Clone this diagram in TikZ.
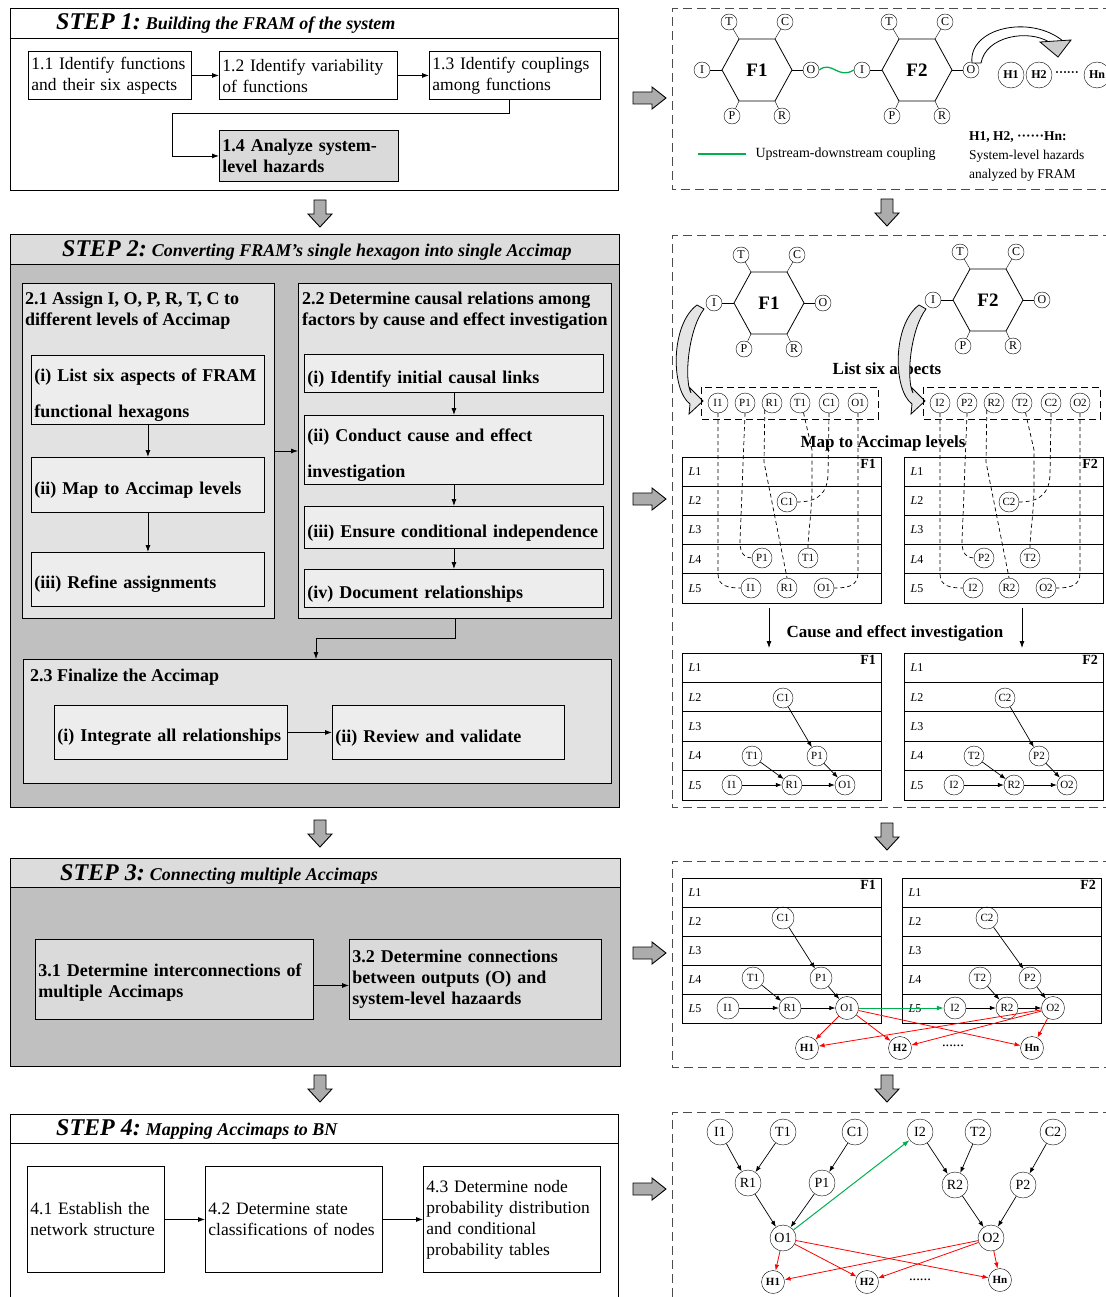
\documentclass[tikz,border=0pt]{standalone}
\usepackage{fontspec}
\setmainfont{Liberation Serif}
\usetikzlibrary{arrows.meta, positioning, calc}

\definecolor{stepgray}{HTML}{C0C0C0}
\definecolor{headgray}{HTML}{DCDCDC}
\definecolor{boxgray}{HTML}{E2E2E2}
\definecolor{subgray}{HTML}{EDEDED}
\definecolor{hazgray}{HTML}{DADADA}
\definecolor{coupgreen}{HTML}{00B050}
\definecolor{hazred}{HTML}{FF0000}

\hyphenpenalty=10000
\exhyphenpenalty=10000

\newcommand{\fsreg}{\fontsize{17.5}{21}\selectfont}
\newcommand{\fsbold}{\fontsize{18}{21}\selectfont\bfseries}
\newcommand{\fsstep}{\fontsize{24}{26}\selectfont\bfseries\itshape}
\newcommand{\fssub}{\fontsize{18}{20}\selectfont\bfseries\itshape}
\newcommand{\fsnote}{\fontsize{13.5}{19}\selectfont}
\newcommand{\fsasp}{\fontsize{12}{13}\selectfont}
\newcommand{\fsnode}{\fontsize{11}{12}\selectfont}
\newcommand{\fsbn}{\fontsize{14}{15}\selectfont}
\newcommand{\fsfun}{\fontsize{19}{20}\selectfont\bfseries}

% FRAM hexagon with its six aspects: name, x, y, label
\newcommand{\framhex}[4]{%
  \begin{scope}[shift={(#2,#3)}]
    \draw[line width=0.8pt] (-35,0) -- (-18,-31) -- (18,-31) -- (35,0) -- (18,31) -- (-18,31) -- cycle;
    \node[font=\fsfun] (#1) at (0,0) {#4};
    \node[asp] (#1T) at (-28,-48) {T};
    \node[asp] (#1C) at (28,-48) {C};
    \node[asp] (#1I) at (-55,0) {I};
    \node[asp] (#1O) at (54,0) {O};
    \node[asp] (#1P) at (-25,46) {P};
    \node[asp] (#1R) at (25,46) {R};
    \draw (-18,-31) -- (#1T);
    \draw (18,-31) -- (#1C);
    \draw (-35,0) -- (#1I);
    \draw (35,0) -- (#1O);
    \draw (-18,31) -- (#1P);
    \draw (18,31) -- (#1R);
  \end{scope}}

% Accimap with five levels: x, y, width, row height, label, prefix
\newcommand{\levtable}[6]{%
  \foreach \lv in {1,...,5}{%
    \draw[line width=0.9pt] (#1,{#2+(\lv-1)*#4}) rectangle ++(#3,#4);
    \node[levlab] (#6L\lv) at ({#1+13},{#2+(\lv-0.5)*#4}) {\textit{L}\lv};
  }
  \node[funlab] (#6F) at ({#1+#3-4},{#2+1}) {#5};}

\begin{document}
\begin{tikzpicture}[x=1pt, y=-1pt, >={Latex[length=7pt,width=5pt]},
  frame/.style={draw, line width=1pt},
  steptitle/.style={anchor=west, inner sep=0pt},
  pbox/.style={draw, line width=0.9pt, anchor=north west, align=left, inner sep=3pt, font=\fsreg},
  bbox/.style={pbox, font=\fsbold},
  subbox/.style={bbox, fill=subgray, execute at begin node={\rule{0pt}{23pt}}},
  grp/.style={draw, line width=1pt, fill=boxgray, anchor=north west, inner sep=0pt},
  grptitle/.style={anchor=north west, align=left, inner sep=0pt, font=\fsbold},
  asp/.style={circle, draw, inner sep=0pt, minimum size=16pt, font=\fsasp},
  fac/.style={circle, draw, inner sep=0pt, minimum size=20pt, font=\fsnode},
  hzA/.style={circle, draw, inner sep=0pt, minimum size=26pt, font=\fontsize{12}{13}\selectfont\bfseries},
  haz/.style={circle, draw, inner sep=0pt, minimum size=23pt, font=\fsnode\bfseries},
  bn/.style={circle, draw, inner sep=0pt, minimum size=26pt, font=\fsbn},
  levlab/.style={inner sep=0pt, font=\fontsize{12}{13}\selectfont},
  funlab/.style={anchor=north east, inner sep=1pt, font=\fontsize{14}{15}\selectfont\bfseries},
  link/.style={->, line width=0.8pt},
  flink/.style={-{Latex[length=6pt,width=4.5pt]}, line width=0.7pt},
  redlink/.style={-{Latex[length=6pt,width=4.5pt]}, draw=hazred, line width=0.8pt},
  greenlink/.style={-{Latex[length=7pt,width=5pt]}, draw=coupgreen, line width=1pt},
  map/.style={line width=0.7pt, dash pattern=on 4pt off 3pt},
  lstframe/.style={line width=0.8pt, dash pattern=on 7pt off 4pt},
  panel/.style={line width=1pt, dash pattern=on 9pt off 5pt, draw=gray!60!black},
  blockarrow/.style={draw, line width=0.9pt, fill=gray!65},
  downblk/.pic={\draw[blockarrow] (-6,0) -- (6,0) -- (6,14) -- (12,14) -- (0,27) -- (-12,14) -- (-6,14) -- cycle;},
  rightblk/.pic={\draw[blockarrow] (0,-6) -- (19,-6) -- (19,-11) -- (33,0) -- (19,11) -- (19,6) -- (0,6) -- cycle;}]
\useasboundingbox (0,0) rectangle (1105,1297);

% ---------------- STEP 1 ----------------
\draw[frame] (10,9) rectangle (618,191);
\draw[frame] (10,39) -- (618,39);
\node[steptitle] (st1) at (56,24) {{\fsstep STEP 1:}\enspace{\fssub Building the FRAM of the system}};
\node[pbox, minimum width=163pt, minimum height=48pt, text width=157pt] (b11) at (28,51) {1.1 Identify functions\\and their six aspects};
\node[pbox, minimum width=178pt, minimum height=48pt, text width=172pt] (b12) at (219,51) {1.2 Identify variability\\of functions};
\node[pbox, minimum width=171pt, minimum height=48pt, text width=165pt] (b13) at (429,51) {1.3 Identify couplings\\among functions};
\node[bbox, fill=hazgray, minimum width=179pt, minimum height=51pt, text width=173pt] (b14) at (219,130) {1.4 Analyze system-\\level hazards};
\draw[link] (b11) -- (b12);
\draw[link] (b12) -- (b13);
\coordinate (j13) at (172,113);
\draw[link] ([xshift=-6pt]b13.south) |- (j13) |- (b14.west);

% ---------------- STEP 2 ----------------
\draw[frame, fill=stepgray] (10,235) rectangle (619,807);
\draw[frame, fill=headgray] (10,235) rectangle (619,264);
\node[steptitle] (st2) at (62,250) {{\fsstep STEP 2:}\enspace{\fssub Converting FRAM's single hexagon into single Accimap}};

\node[grp, minimum width=252pt, minimum height=335pt] (g21) at (22,283) {};
\node[grptitle] (g21t) at (25,292) {2.1 Assign I, O, P, R, T, C to\\different levels of Accimap};
\node[subbox, minimum width=233pt, minimum height=67pt, text width=227pt] (s21a) at (31,355) {(i) List six aspects of FRAM\\[15pt]functional hexagons};
\node[subbox, minimum width=233pt, minimum height=55pt, text width=227pt] (s21b) at (31,457) {(ii) Map to Accimap levels};
\node[subbox, minimum width=233pt, minimum height=54pt, text width=227pt] (s21c) at (31,552) {(iii) Refine assignments};
\draw[link] (s21a) -- (s21b);
\draw[link] (s21b) -- (s21c);

\node[grp, minimum width=313pt, minimum height=335pt] (g22) at (298,283) {};
\node[grptitle] (g22t) at (302,292) {2.2 Determine causal relations among\\factors by cause and effect investigation};
\node[subbox, minimum width=299pt, minimum height=38pt, text width=293pt] (s22a) at (304,354) {(i) Identify initial causal links};
\node[subbox, minimum width=299pt, minimum height=68pt, text width=293pt] (s22b) at (304,415) {(ii) Conduct cause and effect\\[15pt]investigation};
\node[subbox, minimum width=299pt, minimum height=42pt, text width=293pt] (s22c) at (304,506) {(iii) Ensure conditional independence};
\node[subbox, minimum width=299pt, minimum height=38pt, text width=293pt] (s22d) at (304,569) {(iv) Document relationships};
\draw[link] (s22a) -- (s22b);
\draw[link] (s22b) -- (s22c);
\draw[link] (s22c) -- (s22d);
\draw[link] (g21) -- (g22);

\node[grp, minimum width=588pt, minimum height=124pt] (g23) at (23,659) {};
\node[steptitle, font=\fsbold] (g23t) at (30,677) {2.3 Finalize the Accimap};
\node[subbox, minimum width=233pt, minimum height=54pt, text width=227pt] (s23a) at (54,705) {(i) Integrate all relationships};
\node[subbox, minimum width=232pt, minimum height=54pt, text width=226pt] (s23b) at (332,705) {(ii) Review and validate};
\draw[link] (s23a) -- (s23b);
\coordinate (j23) at (316,638);
\draw[link] (g22.south) |- (j23) -- (j23 |- g23.north);

% ---------------- STEP 3 ----------------
\draw[frame, fill=stepgray] (10,858) rectangle (620,1066);
\draw[frame, fill=headgray] (10,858) rectangle (620,887);
\node[steptitle] (st3) at (60,874) {{\fsstep STEP 3:}\enspace{\fssub Connecting multiple Accimaps}};
\node[bbox, fill=hazgray, minimum width=278pt, minimum height=80pt, text width=272pt, execute at begin node={\rule{0pt}{19pt}}] (s31) at (35,939) {3.1 Determine interconnections of\\multiple Accimaps};
\node[bbox, fill=hazgray, minimum width=252pt, minimum height=80pt, text width=246pt] (s32) at (349,939) {3.2 Determine connections\\between outputs (O) and\\system-level hazaards};
\draw[link] ([yshift=-6pt]s31.east) -- ([yshift=-6pt]s32.west);

% ---------------- STEP 4 ----------------
\draw[frame] (10,1305) -- (10,1114) -- (618,1114) -- (618,1305);
\draw[frame] (10,1143) -- (618,1143);
\node[steptitle] (st4) at (56,1129) {{\fsstep STEP 4:}\enspace{\fssub Mapping Accimaps to BN}};
\node[pbox, minimum width=137pt, minimum height=106pt, text width=131pt] (s41) at (27,1166) {4.1 Establish the\\network structure};
\node[pbox, minimum width=177pt, minimum height=106pt, text width=171pt] (s42) at (205,1166) {4.2 Determine state\\classifications of nodes};
\node[pbox, minimum width=177pt, minimum height=106pt, text width=171pt] (s43) at (423,1166) {4.3 Determine node\\probability distribution\\and conditional\\probability tables};
\draw[link] (s41) -- (s42);
\draw[link] (s42) -- (s43);

% block arrows between the steps
\pic at (320,200) {downblk};
\pic at (320,820) {downblk};
\pic at (320,1075) {downblk};
\pic at (887,199) {downblk};
\pic at (887,823) {downblk};
\pic at (887,1075) {downblk};
\pic at (633,98) {rightblk};
\pic at (633,499) {rightblk};
\pic at (633,953) {rightblk};
\pic at (633,1189) {rightblk};

% ---------------- panel 1: FRAM ----------------
\draw[panel] (1112,9) -- (672,9) -- (672,190) -- (1112,190);
\framhex{hxA1}{757}{70}{F1}
\framhex{hxA2}{917}{70}{F2}
\draw[coupgreen, line width=1.3pt] (hxA1O.east) .. controls (832,60) and (838,80) .. (hxA2I.west);
\draw[line width=0.8pt, fill=white] (972,63) .. controls (968,28) and (1030,14) .. (1063,41) -- (1049,42) .. controls (1028,29) and (986,36) .. (981,63) -- cycle;
\draw[line width=0.8pt, fill=gray!40] (1040,42) -- (1071,40) -- (1058,57) -- cycle;
\node[hzA] (hzA1) at (1011,75) {H1};
\node[hzA] (hzA2) at (1039,75) {H2};
\node[font=\fontsize{12}{13}\selectfont\bfseries] (hzAd) at (1067,74) {······};
\node[hzA] (hzAn) at (1097,75) {Hn};
\coordinate (lgA) at (698,154);
\coordinate (lgB) at (746,154);
\draw[coupgreen, line width=1.3pt] (lgA) -- (lgB);
\node[anchor=west, font=\fontsize{14}{16}\selectfont] (lgtext) at (752,154) {Upstream-downstream coupling};
\node[anchor=north west, align=left, inner sep=0pt, font=\fsnote] (hznote) at (969,131) {\textbf{H1, H2, ······Hn:}\\System-level hazards\\analyzed by FRAM};

% ---------------- panel 2: single Accimaps ----------------
\draw[panel] (1112,236) -- (672,236) -- (672,807) -- (1112,807);
\framhex{hxB1}{769}{303}{F1}
\framhex{hxB2}{988}{300}{F2}
\node[font=\fontsize{17}{18}\selectfont\bfseries] (lstxt) at (887,370) {List six aspects};
\node[font=\fontsize{17}{18}\selectfont\bfseries] (maptxt) at (883,443) {Map to Accimap levels};
\foreach \k/\dx in {1/0, 2/222}{
  \begin{scope}[shift={(\dx,0)}]
    \draw[line width=0.8pt, fill=gray!20] (697,305) -- (704,309) .. controls (688,330) and (684,380) .. (691,393) -- (689,387) -- (703,401) -- (689,414) -- (690,404) .. controls (671,390) and (670,325) .. (697,305) -- cycle;
    \draw[lstframe] (701,387) rectangle (878,419);
    \node[fac] (lsI\k) at (718,403) {I\k};
    \node[fac] (lsP\k) at (745,403) {P\k};
    \node[fac] (lsR\k) at (772,403) {R\k};
    \node[fac] (lsT\k) at (800,403) {T\k};
    \node[fac] (lsC\k) at (829,403) {C\k};
    \node[fac] (lsO\k) at (858,403) {O\k};
    \levtable{682}{457}{199}{29.2}{F\k}{mp\k}
    \node[fac] (mpC\k) at (787,502) {C\k};
    \node[fac] (mpP\k) at (762,558) {P\k};
    \node[fac] (mpT\k) at (808,558) {T\k};
    \node[fac] (mpI\k) at (751,588) {I\k};
    \node[fac] (mpR\k) at (787,588) {R\k};
    \node[fac] (mpO\k) at (824,588) {O\k};
    \draw[map] (lsI\k.south) -- (718,574) .. controls (718,586) and (728,588) .. (mpI\k.west);
    \draw[map] (lsP\k.south) -- (740,542) .. controls (740,554) and (745,558) .. (mpP\k.west);
    \draw[map] (lsR\k.south west) -- (764,462) -- (mpR\k.north);
    \draw[map] (lsT\k.-70) -- (812,450) -- (812,490) .. controls (811,520) and (808,535) .. (mpT\k.north);
    \draw[map] (lsC\k.south) -- (828,475) .. controls (827,498) and (812,502) .. (mpC\k.east);
    \draw[map] (lsO\k.south) -- (858,573) .. controls (858,586) and (848,588) .. (mpO\k.east);
    \levtable{682}{653}{199}{29.4}{F\k}{ce\k}
    \node[fac] (ceC\k) at (783,698) {C\k};
    \node[fac] (ceT\k) at (752,756) {T\k};
    \node[fac] (ceP\k) at (817,756) {P\k};
    \node[fac] (ceI\k) at (732,785) {I\k};
    \node[fac] (ceR\k) at (792,785) {R\k};
    \node[fac] (ceO\k) at (845,785) {O\k};
    \draw[flink] (ceC\k) -- (ceP\k);
    \draw[flink] (ceT\k) -- (ceR\k);
    \draw[flink] (ceP\k) -- (ceO\k);
    \draw[flink] (ceI\k) -- (ceR\k);
    \draw[flink] (ceR\k) -- (ceO\k);
  \end{scope}
}
\coordinate (cfA) at (769,608);
\coordinate (cfB) at (1022,608);
\draw[link] (cfA) -- ++(0,40);
\draw[link] (cfB) -- ++(0,40);
\node[font=\fontsize{17}{18}\selectfont\bfseries] (cetxt) at (895,633) {Cause and effect investigation};

% ---------------- panel 3: connected Accimaps ----------------
\draw[panel] (1112,861) -- (672,861) -- (672,1067) -- (1112,1067);
\levtable{682}{878}{199}{29}{F1}{cn1}
\levtable{902}{878}{199}{29}{F2}{cn2}
\node[fac, minimum size=22pt] (cnC1) at (783,918) {C1};
\node[fac, minimum size=22pt] (cnT1) at (753,978) {T1};
\node[fac, minimum size=22pt] (cnP1) at (821,978) {P1};
\node[fac, minimum size=22pt] (cnI1) at (728,1008) {I1};
\node[fac, minimum size=22pt] (cnR1) at (790,1008) {R1};
\node[fac, minimum size=23pt] (cnO1) at (847,1008) {O1};
\node[fac, minimum size=22pt] (cnC2) at (987,918) {C2};
\node[fac, minimum size=22pt] (cnT2) at (980,978) {T2};
\node[fac, minimum size=22pt] (cnP2) at (1030,978) {P2};
\node[fac, minimum size=22pt] (cnI2) at (955,1008) {I2};
\node[fac, minimum size=22pt] (cnR2) at (1007,1008) {R2};
\node[fac, minimum size=23pt] (cnO2) at (1053,1008) {O2};
\node[haz] (cnH1) at (807,1048) {H1};
\node[haz] (cnH2) at (900,1048) {H2};
\node[font=\fsnode\bfseries] (cnHd) at (953,1047) {······};
\node[haz] (cnHn) at (1032,1048) {Hn};
\foreach \k in {1,2}{
  \draw[flink] (cnC\k) -- (cnP\k);
  \draw[flink] (cnT\k) -- (cnR\k);
  \draw[flink] (cnP\k) -- (cnO\k);
  \draw[flink] (cnI\k) -- (cnR\k);
  \draw[flink] (cnR\k) -- (cnO\k);
  \draw[redlink] (cnO\k) -- (cnH1);
  \draw[redlink] (cnO\k) -- (cnH2);
  \draw[redlink] (cnO\k) -- (cnHn);
}
\draw[greenlink] (cnO1) -- (cnI2);

% ---------------- panel 4: Bayesian network ----------------
\draw[panel] (1112,1112) -- (672,1112) -- (672,1305);
\node[bn] (bnI1) at (720,1132) {I1};
\node[bn] (bnT1) at (783,1132) {T1};
\node[bn] (bnC1) at (855,1132) {C1};
\node[bn] (bnI2) at (920,1132) {I2};
\node[bn] (bnT2) at (978,1132) {T2};
\node[bn] (bnC2) at (1053,1132) {C2};
\node[bn] (bnR1) at (748,1183) {R1};
\node[bn] (bnP1) at (822,1183) {P1};
\node[bn] (bnR2) at (955,1185) {R2};
\node[bn] (bnP2) at (1023,1185) {P2};
\node[bn] (bnO1) at (783,1238) {O1};
\node[bn] (bnO2) at (991,1238) {O2};
\node[haz] (bnH1) at (773,1282) {H1};
\node[haz] (bnH2) at (867,1282) {H2};
\node[font=\fsnode\bfseries] (bnHd) at (920,1281) {······};
\node[haz] (bnHn) at (1000,1280) {Hn};
\foreach \k in {1,2}{
  \draw[flink] (bnI\k) -- (bnR\k);
  \draw[flink] (bnT\k) -- (bnR\k);
  \draw[flink] (bnC\k) -- (bnP\k);
  \draw[flink] (bnR\k) -- (bnO\k);
  \draw[flink] (bnP\k) -- (bnO\k);
  \draw[redlink] (bnO\k) -- (bnH1);
  \draw[redlink] (bnO\k) -- (bnH2);
  \draw[redlink] (bnO\k) -- (bnHn);
}
\draw[greenlink] (bnO1) -- (bnI2);
\end{tikzpicture}
\end{document}
